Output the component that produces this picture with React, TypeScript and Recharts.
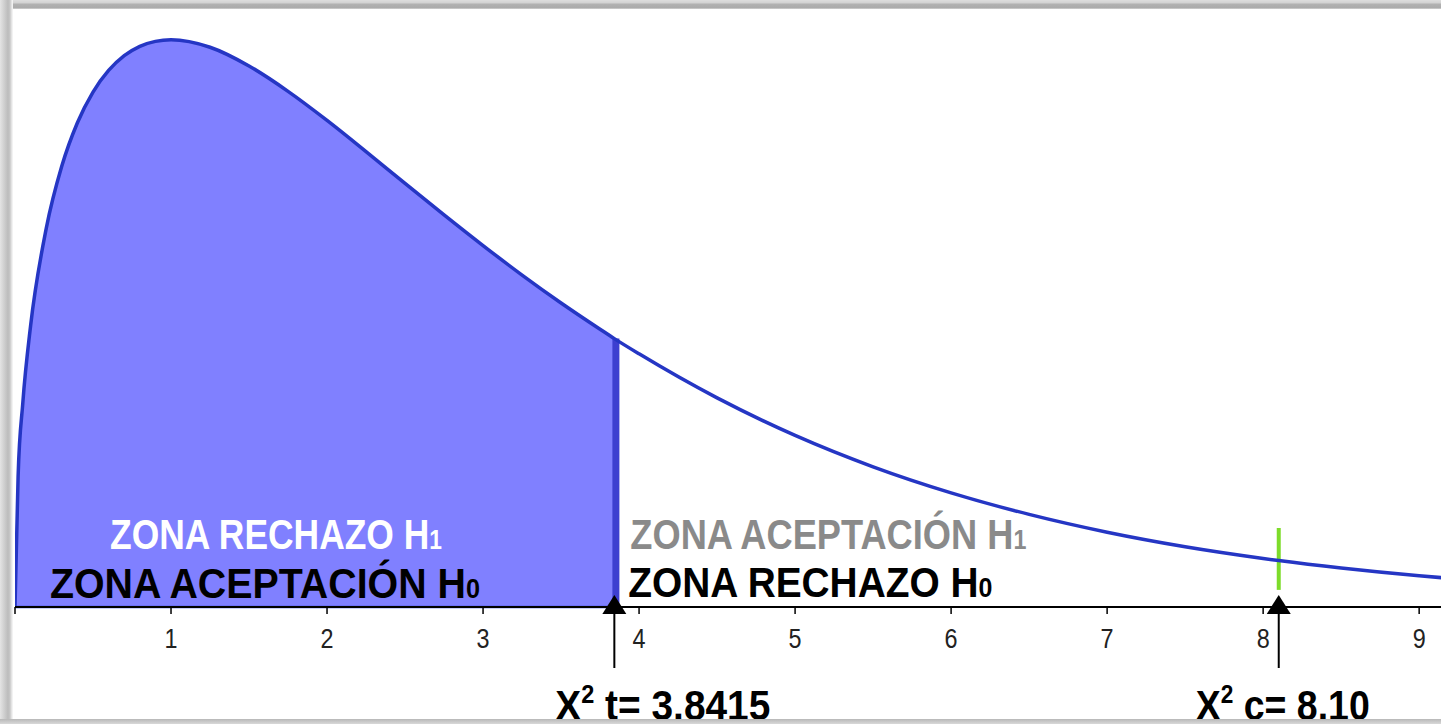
import React from 'react';
import { ComposedChart, Area, Line, XAxis, YAxis, ReferenceLine, ReferenceDot } from 'recharts';

// Chi-square density, x positions and heights
const xValues = [0, 0.02, 0.05, 0.1, 0.2, 0.3, 0.4, 0.5, 0.6, 0.7, 0.8, 0.9, 1.0, 1.25, 1.5, 1.75, 2.0, 2.25, 2.5, 2.75, 3.0, 3.25, 3.5, 3.75, 3.8415, 4.0, 4.5, 5.0, 5.5, 6.0, 6.5, 7.0, 7.5, 8.0, 8.1, 8.5, 9.0, 9.2];
const densityValues = [0, 0.0559, 0.087, 0.12, 0.1614, 0.1881, 0.2066, 0.2197, 0.2289, 0.2352, 0.2392, 0.2413, 0.242, 0.2388, 0.2308, 0.22, 0.2076, 0.1943, 0.1807, 0.1673, 0.1542, 0.1416, 0.1297, 0.1185, 0.1145, 0.108, 0.0892, 0.0732, 0.0598, 0.0487, 0.0395, 0.0319, 0.0257, 0.0207, 0.0198, 0.0166, 0.0133, 0.0122];
const criticalValue = 3.8415;
const criticalHeight = 0.1145;
const computedValue = 8.1;
const computedMarkLow = 0.0073;
const computedMarkHigh = 0.0337;
const tickValues = [0, 1, 2, 3, 4, 5, 6, 7, 8, 9];
const xDomain: [number, number] = [0, 9.14];
const yDomain: [number, number] = [0, 0.25];

const tLabel = { name: 'X', sup: '2', rest: ' t= 3.8415' };
const cLabel = { name: 'X', sup: '2', rest: ' c= 8.10' };

const data = xValues.map((x, i) => ({
  x,
  y: densityValues[i],
  fillY: x <= criticalValue + 1e-9 ? densityValues[i] : null,
}));

const BOLD = "'Liberation Sans', Arial, 'DejaVu Sans', sans-serif";

const Tick = (props: any) => {
  const { x, y, payload } = props;
  if (payload.value === 0) return null;
  return (
    <text
      x={x - 6.5}
      y={y + 34}
      textLength={13}
      lengthAdjust="spacingAndGlyphs"
      fontFamily={BOLD}
      fontSize={28}
      fill="#222"
    >
      {payload.value}
    </text>
  );
};

const makeMarker = (lbl: { name: string; sup: string; rest: string }, start: number, len: number) => (props: any) => {
  const { cx, cy } = props;
  return (
    <g>
      <polygon points={`${cx},${cy - 12} ${cx - 12},${cy + 7} ${cx + 12},${cy + 7}`} fill="#000" />
      <line x1={cx} y1={cy + 7} x2={cx} y2={cy + 61} stroke="#000" strokeWidth={2} />
      <text
        x={cx + start}
        y={cy + 113}
        textLength={len}
        lengthAdjust="spacingAndGlyphs"
        fontFamily={BOLD}
        fontWeight="bold"
        fontSize={43}
        fill="#000"
      >
        {lbl.name}
        <tspan fontSize={26} dy={-17}>{lbl.sup}</tspan>
        <tspan dy={17}>{lbl.rest}</tspan>
      </text>
    </g>
  );
};

const zoneText = (x: number, y: number, len: number, color: string, main: string, sub: string) => (
  <text
    x={x}
    y={y}
    textLength={len}
    lengthAdjust="spacingAndGlyphs"
    fontFamily={BOLD}
    fontWeight="bold"
    fontSize={42}
    fill={color}
  >
    {main}
    <tspan fontSize={27}>{sub}</tspan>
  </text>
);

const LeftZones = (props: any) => {
  const { cx, cy } = props;
  return (
    <g>
      {zoneText(cx + 95, cy - 58, 332, '#ffffff', 'ZONA RECHAZO H', '1')}
      {zoneText(cx + 35, cy - 9, 430, '#000000', 'ZONA ACEPTACIÓN H', '0')}
    </g>
  );
};

const RightZones = (props: any) => {
  const { cx, cy } = props;
  return (
    <g>
      {zoneText(cx + 16, cy - 58, 396, '#8a8a8a', 'ZONA ACEPTACIÓN H', '1')}
      {zoneText(cx + 14, cy - 10, 364, '#000000', 'ZONA RECHAZO H', '0')}
    </g>
  );
};

export default function App() {
  return (
    <div style={{ position: 'absolute', left: 0, top: 0, width: 1441, height: 724, overflow: 'hidden', background: '#fff' }}>
      <ComposedChart
        width={1441}
        height={724}
        data={data}
        margin={{ top: 21, right: 0, left: 15, bottom: 0 }}
      >
        <XAxis
          dataKey="x"
          type="number"
          domain={xDomain}
          ticks={tickValues}
          allowDataOverflow
          height={117}
          axisLine={{ stroke: '#000', strokeWidth: 2 }}
          tickLine={{ stroke: '#000', strokeWidth: 1.5 }}
          tickSize={7}
          tickMargin={0}
          tick={<Tick />}
          interval={0}
        />
        <YAxis hide domain={yDomain} type="number" allowDataOverflow />
        <Area
          dataKey="fillY"
          type="monotone"
          fill="#8080ff"
          fillOpacity={1}
          stroke="none"
          isAnimationActive={false}
          connectNulls={false}
          dot={false}
          activeDot={false}
        />
        <ReferenceLine
          segment={[{ x: 0, y: 0 }, { x: criticalValue, y: 0 }]}
          stroke="#3344dd"
          strokeWidth={2.5}
          ifOverflow="visible"
        />
        <ReferenceLine
          segment={[{ x: criticalValue + 0.01, y: 0 }, { x: criticalValue + 0.01, y: criticalHeight }]}
          stroke="#3d3fd0"
          strokeWidth={7}
          ifOverflow="visible"
        />
        <ReferenceLine
          segment={[{ x: computedValue, y: computedMarkLow }, { x: computedValue, y: computedMarkHigh }]}
          stroke="#7ddc2a"
          strokeWidth={4}
          ifOverflow="visible"
        />
        <Line
          dataKey="y"
          type="monotone"
          stroke="#2536c4"
          strokeWidth={3.5}
          dot={false}
          activeDot={false}
          isAnimationActive={false}
        />
        <ReferenceDot x={0} y={0} r={1} ifOverflow="visible" shape={LeftZones} />
        <ReferenceDot x={criticalValue} y={0} r={1} ifOverflow="visible" shape={RightZones} />
        <ReferenceDot x={criticalValue} y={0} r={1} ifOverflow="visible" shape={makeMarker(tLabel, -59, 215)} />
        <ReferenceDot x={computedValue} y={0} r={1} ifOverflow="visible" shape={makeMarker(cLabel, -83, 174)} />
      </ComposedChart>
      <div style={{ position: 'absolute', left: 0, top: 0, width: 1441, height: 9, background: 'linear-gradient(#dedede 0px, #d2d2d2 3px, #b2b2b2 4px, #ababab 8px, #e0e0e0 9px)' }} />
      <div style={{ position: 'absolute', left: 0, top: 0, width: 13, height: 724, background: 'linear-gradient(90deg, #e4e4e4 0px, #d0d0d0 4px, #bcbcbc 8px, #c8c8c8 10px, #ececec 12px, #f8f8f8 13px)' }} />
      <div style={{ position: 'absolute', left: 0, top: 719, width: 1441, height: 5, background: 'linear-gradient(#b8b8b8, #d8d8d8)' }} />
    </div>
  );
}
